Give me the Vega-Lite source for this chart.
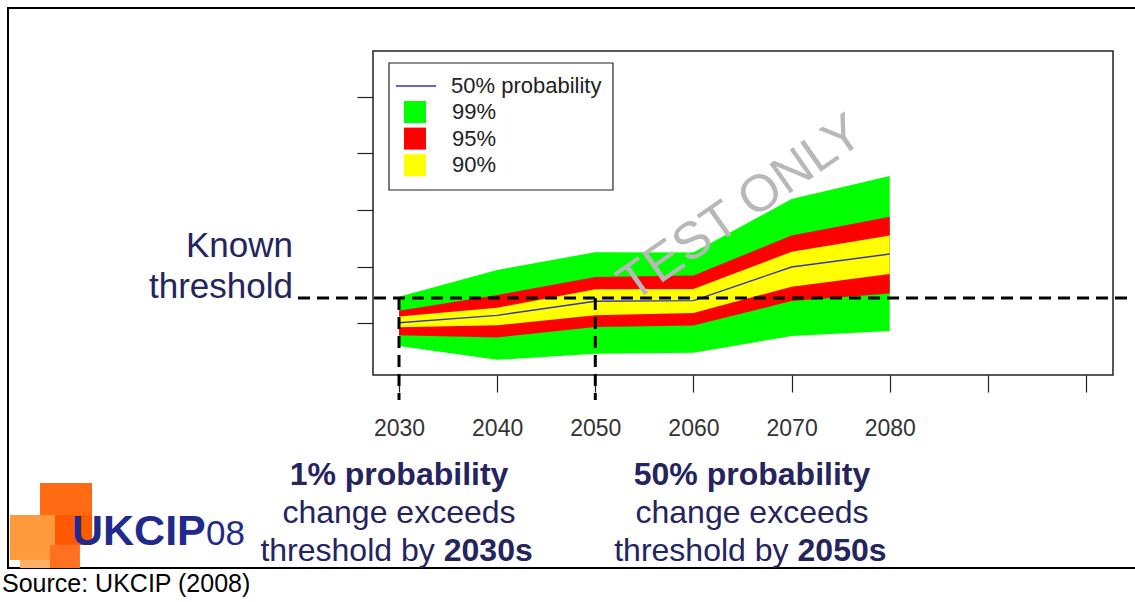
{
  "$schema": "https://vega.github.io/schema/vega-lite/v6.json",
  "width": 740,
  "height": 324,
  "autosize": {"type": "none"},
  "padding": {"left": 373, "top": 51, "right": 22, "bottom": 227},
  "background": "white",
  "config": {"view": {"stroke": "#222222", "strokeWidth": 1.5}, "font": "Liberation Sans"},
  "datasets": {
    "bands": [
      {"year": 2030, "g_lo": -0.40, "g_hi": 0.47, "r_lo": -0.21, "r_hi": 0.22, "y_lo": -0.07, "y_hi": 0.12, "med": 0.01},
      {"year": 2040, "g_lo": -0.645, "g_hi": 0.94, "r_lo": -0.25, "r_hi": 0.50, "y_lo": -0.035, "y_hi": 0.275, "med": 0.14},
      {"year": 2050, "g_lo": -0.54, "g_hi": 1.255, "r_lo": -0.065, "r_hi": 0.815, "y_lo": 0.14, "y_hi": 0.60, "med": 0.39},
      {"year": 2060, "g_lo": -0.52, "g_hi": 1.25, "r_lo": -0.04, "r_hi": 0.844, "y_lo": 0.18, "y_hi": 0.605, "med": 0.40},
      {"year": 2070, "g_lo": -0.224, "g_hi": 2.194, "r_lo": 0.394, "r_hi": 1.55, "y_lo": 0.646, "y_hi": 1.262, "med": 0.994},
      {"year": 2080, "g_lo": -0.136, "g_hi": 2.60, "r_lo": 0.528, "r_hi": 1.882, "y_lo": 0.87, "y_hi": 1.55, "med": 1.223}
    ],
    "threshold": [{"x1": 2019.71, "x2": 2104.5, "y": 0.447}],
    "vlines": [{"year": 2030, "top": 0.447, "bottom": -1.354}, {"year": 2050, "top": 0.447, "bottom": -1.354}],
    "legendbox": [{"x1": 2028.98, "x2": 2051.8, "y1": 4.595, "y2": 2.353}],
    "known": [{"t": "Known", "x": 2019.2, "y": 1.17}, {"t": "threshold", "x": 2019.2, "y": 0.447}],
    "boldc": [{"t": "1% probability", "x": 2030, "y": -2.854}, {"t": "50% probability", "x": 2065.97, "y": -2.854}],
    "normc": [{"t": "change exceeds", "x": 2030, "y": -3.525}, {"t": "change exceeds", "x": 2065.97, "y": -3.525}],
    "thr": [{"t": "threshold by", "x": 2034.1, "y": -4.196}, {"t": "threshold by", "x": 2070.15, "y": -4.196}],
    "dec": [{"t": "2030s", "x": 2034.1, "y": -4.196}, {"t": "2050s", "x": 2070.15, "y": -4.196}],
    "logo": [
      {"part": "a", "x1": 1993.42, "x2": 1998.72, "y1": -2.819, "y2": -3.508},
      {"part": "b", "x1": 1990.36, "x2": 1994.95, "y1": -3.384, "y2": -4.178},
      {"part": "c", "x1": 1994.95, "x2": 1998.72, "y1": -3.384, "y2": -3.913},
      {"part": "d", "x1": 1991.38, "x2": 1994.44, "y1": -4.178, "y2": -4.32},
      {"part": "e", "x1": 1994.44, "x2": 1997.49, "y1": -3.913, "y2": -4.32}
    ],
    "logo_bold": [{"t": "UKCIP", "x": 1996.68, "y": -3.913}],
    "logo_reg": [{"t": "08", "x": 2010.33, "y": -3.913}],
    "watermark": [{"t": "TEST ONLY", "x": 2064.8, "y": 2.03}],
    "source": [{"t": "Source: UKCIP (2008)", "x": 1989.55, "y": -4.743}],
    "border": [{"x1": 1990.16, "x2": 2105.5, "y1": 5.566, "y2": -4.3196}]
  },
  "layer": [
    {
      "data": {"name": "border"},
      "mark": {"type": "rect", "clip": false, "fill": "transparent", "stroke": "#000000", "strokeWidth": 2},
      "encoding": {
        "x": {"field": "x1", "type": "quantitative", "scale": {"domain": [2027.35, 2102.75], "nice": false, "zero": false},
          "axis": {"values": [2030, 2040, 2050, 2060, 2070, 2080, 2090, 2100], "format": "d", "labelExpr": "datum.value <= 2080 ? datum.label : ''", "title": null, "domain": false, "grid": false, "tickSize": 17, "tickColor": "#222222", "tickWidth": 1.2, "labelFontSize": 23, "labelFont": "Liberation Sans", "labelColor": "#333333", "labelPadding": 25, "labelFlush": false, "labelOverlap": false}},
        "x2": {"field": "x2"},
        "y": {"field": "y1", "type": "quantitative", "scale": {"domain": [-0.913, 4.807], "nice": false, "zero": false},
          "axis": {"values": [0, 1, 2, 3, 4], "labels": false, "title": null, "domain": false, "grid": false, "tickSize": 16, "tickColor": "#222222", "tickWidth": 1.2}},
        "y2": {"field": "y2"}
      }
    },
    {
      "data": {"name": "logo"},
      "mark": {"type": "rect", "clip": false},
      "encoding": {
        "x": {"field": "x1", "type": "quantitative", "scale": {"domain": [2027.35, 2102.75], "nice": false, "zero": false}},
        "x2": {"field": "x2"},
        "y": {"field": "y1", "type": "quantitative", "scale": {"domain": [-0.913, 4.807], "nice": false, "zero": false}},
        "y2": {"field": "y2"},
        "color": {"field": "part", "type": "nominal", "scale": {"domain": ["a", "b", "c", "d", "e"], "range": ["#ff6a13", "#ff9a3c", "#ff5a00", "#ffb066", "#ff7020"]}, "legend": null}
      }
    },
    {
      "data": {"name": "logo_bold"},
      "mark": {"type": "text", "clip": false, "align": "left", "baseline": "alphabetic", "fontSize": 43, "fontWeight": "bold", "font": "Liberation Sans", "color": "#1f2a8c"},
      "encoding": {
        "x": {"field": "x", "type": "quantitative", "scale": {"domain": [2027.35, 2102.75], "nice": false, "zero": false}},
        "y": {"field": "y", "type": "quantitative", "scale": {"domain": [-0.913, 4.807], "nice": false, "zero": false}},
        "text": {"field": "t"}
      }
    },
    {
      "data": {"name": "logo_reg"},
      "mark": {"type": "text", "clip": false, "align": "left", "baseline": "alphabetic", "fontSize": 35, "font": "Liberation Sans", "color": "#1f2a8c"},
      "encoding": {
        "x": {"field": "x", "type": "quantitative", "scale": {"domain": [2027.35, 2102.75], "nice": false, "zero": false}},
        "y": {"field": "y", "type": "quantitative", "scale": {"domain": [-0.913, 4.807], "nice": false, "zero": false}},
        "text": {"field": "t"}
      }
    },
    {
      "data": {"name": "bands"},
      "mark": {"type": "area", "opacity": 1},
      "encoding": {
        "x": {"field": "year", "type": "quantitative", "scale": {"domain": [2027.35, 2102.75], "nice": false, "zero": false}},
        "y": {"field": "g_lo", "type": "quantitative", "scale": {"domain": [-0.913, 4.807], "nice": false, "zero": false}},
        "y2": {"field": "g_hi"},
        "fill": {"datum": "99%", "type": "nominal",
          "scale": {"domain": ["99%", "95%", "90%"], "range": ["#00ff00", "#ff0000", "#ffff00"]},
          "legend": {"orient": "none", "legendX": 26, "legendY": 45, "title": null, "padding": 5,
            "symbolSize": 484, "symbolType": "square", "symbolStrokeWidth": 0, "labelFont": "Liberation Sans", "labelFontSize": 22, "labelColor": "#222222", "labelOffset": 26, "labelLimit": 300, "rowPadding": 4.6}}
      }
    },
    {
      "data": {"name": "bands"},
      "mark": {"type": "area", "opacity": 1},
      "encoding": {
        "x": {"field": "year", "type": "quantitative", "scale": {"domain": [2027.35, 2102.75], "nice": false, "zero": false}},
        "y": {"field": "r_lo", "type": "quantitative", "scale": {"domain": [-0.913, 4.807], "nice": false, "zero": false}},
        "y2": {"field": "r_hi"},
        "fill": {"datum": "95%", "type": "nominal"}
      }
    },
    {
      "data": {"name": "bands"},
      "mark": {"type": "area", "opacity": 1},
      "encoding": {
        "x": {"field": "year", "type": "quantitative", "scale": {"domain": [2027.35, 2102.75], "nice": false, "zero": false}},
        "y": {"field": "y_lo", "type": "quantitative", "scale": {"domain": [-0.913, 4.807], "nice": false, "zero": false}},
        "y2": {"field": "y_hi"},
        "fill": {"datum": "90%", "type": "nominal"}
      }
    },
    {
      "data": {"name": "bands"},
      "mark": {"type": "line", "strokeWidth": 1.4},
      "encoding": {
        "x": {"field": "year", "type": "quantitative", "scale": {"domain": [2027.35, 2102.75], "nice": false, "zero": false}},
        "y": {"field": "med", "type": "quantitative", "scale": {"domain": [-0.913, 4.807], "nice": false, "zero": false}},
        "stroke": {"datum": "50% probability", "type": "nominal",
          "scale": {"domain": ["50% probability"], "range": ["#3535b5"]},
          "legend": {"orient": "none", "legendX": 17, "legendY": 9, "title": null, "padding": 5,
            "symbolSize": 1600, "symbolType": "stroke", "symbolStrokeWidth": 1.5, "labelFont": "Liberation Sans", "labelFontSize": 22, "labelColor": "#222222", "labelOffset": 14, "labelLimit": 300}}
      }
    },
    {
      "data": {"name": "legendbox"},
      "mark": {"type": "rect", "clip": false, "fill": "white", "stroke": "#222222", "strokeWidth": 1.2},
      "encoding": {
        "x": {"field": "x1", "type": "quantitative", "scale": {"domain": [2027.35, 2102.75], "nice": false, "zero": false}},
        "x2": {"field": "x2"},
        "y": {"field": "y1", "type": "quantitative", "scale": {"domain": [-0.913, 4.807], "nice": false, "zero": false}},
        "y2": {"field": "y2"}
      }
    },
    {
      "data": {"name": "watermark"},
      "mark": {"type": "text", "clip": false, "align": "center", "baseline": "middle", "angle": 325, "fontSize": 52, "font": "Liberation Sans", "color": "#b8b8b8"},
      "encoding": {
        "x": {"field": "x", "type": "quantitative", "scale": {"domain": [2027.35, 2102.75], "nice": false, "zero": false}},
        "y": {"field": "y", "type": "quantitative", "scale": {"domain": [-0.913, 4.807], "nice": false, "zero": false}},
        "text": {"field": "t"}
      }
    },
    {
      "data": {"name": "threshold"},
      "mark": {"type": "rule", "clip": false, "color": "#000000", "strokeWidth": 3, "strokeDash": [12, 7]},
      "encoding": {
        "x": {"field": "x1", "type": "quantitative", "scale": {"domain": [2027.35, 2102.75], "nice": false, "zero": false}},
        "x2": {"field": "x2"},
        "y": {"field": "y", "type": "quantitative", "scale": {"domain": [-0.913, 4.807], "nice": false, "zero": false}}
      }
    },
    {
      "data": {"name": "vlines"},
      "mark": {"type": "rule", "clip": false, "color": "#000000", "strokeWidth": 3, "strokeDash": [12, 7]},
      "encoding": {
        "x": {"field": "year", "type": "quantitative", "scale": {"domain": [2027.35, 2102.75], "nice": false, "zero": false}},
        "y": {"field": "top", "type": "quantitative", "scale": {"domain": [-0.913, 4.807], "nice": false, "zero": false}},
        "y2": {"field": "bottom"}
      }
    },
    {
      "data": {"name": "known"},
      "mark": {"type": "text", "clip": false, "align": "right", "baseline": "alphabetic", "fontSize": 35, "font": "Liberation Sans", "color": "#24245e"},
      "encoding": {
        "x": {"field": "x", "type": "quantitative", "scale": {"domain": [2027.35, 2102.75], "nice": false, "zero": false}},
        "y": {"field": "y", "type": "quantitative", "scale": {"domain": [-0.913, 4.807], "nice": false, "zero": false}},
        "text": {"field": "t"}
      }
    },
    {
      "data": {"name": "boldc"},
      "mark": {"type": "text", "clip": false, "align": "center", "baseline": "alphabetic", "fontSize": 32, "fontWeight": "bold", "font": "Liberation Sans", "color": "#24245e"},
      "encoding": {
        "x": {"field": "x", "type": "quantitative", "scale": {"domain": [2027.35, 2102.75], "nice": false, "zero": false}},
        "y": {"field": "y", "type": "quantitative", "scale": {"domain": [-0.913, 4.807], "nice": false, "zero": false}},
        "text": {"field": "t"}
      }
    },
    {
      "data": {"name": "normc"},
      "mark": {"type": "text", "clip": false, "align": "center", "baseline": "alphabetic", "fontSize": 32, "font": "Liberation Sans", "color": "#24245e"},
      "encoding": {
        "x": {"field": "x", "type": "quantitative", "scale": {"domain": [2027.35, 2102.75], "nice": false, "zero": false}},
        "y": {"field": "y", "type": "quantitative", "scale": {"domain": [-0.913, 4.807], "nice": false, "zero": false}},
        "text": {"field": "t"}
      }
    },
    {
      "data": {"name": "thr"},
      "mark": {"type": "text", "clip": false, "align": "right", "baseline": "alphabetic", "dx": -4.5, "fontSize": 32, "font": "Liberation Sans", "color": "#24245e"},
      "encoding": {
        "x": {"field": "x", "type": "quantitative", "scale": {"domain": [2027.35, 2102.75], "nice": false, "zero": false}},
        "y": {"field": "y", "type": "quantitative", "scale": {"domain": [-0.913, 4.807], "nice": false, "zero": false}},
        "text": {"field": "t"}
      }
    },
    {
      "data": {"name": "dec"},
      "mark": {"type": "text", "clip": false, "align": "left", "baseline": "alphabetic", "dx": 4.5, "fontSize": 32, "fontWeight": "bold", "font": "Liberation Sans", "color": "#24245e"},
      "encoding": {
        "x": {"field": "x", "type": "quantitative", "scale": {"domain": [2027.35, 2102.75], "nice": false, "zero": false}},
        "y": {"field": "y", "type": "quantitative", "scale": {"domain": [-0.913, 4.807], "nice": false, "zero": false}},
        "text": {"field": "t"}
      }
    },
    {
      "data": {"name": "source"},
      "mark": {"type": "text", "clip": false, "align": "left", "baseline": "alphabetic", "fontSize": 25, "font": "Liberation Sans", "color": "#000000"},
      "encoding": {
        "x": {"field": "x", "type": "quantitative", "scale": {"domain": [2027.35, 2102.75], "nice": false, "zero": false}},
        "y": {"field": "y", "type": "quantitative", "scale": {"domain": [-0.913, 4.807], "nice": false, "zero": false}},
        "text": {"field": "t"}
      }
    }
  ]
}
